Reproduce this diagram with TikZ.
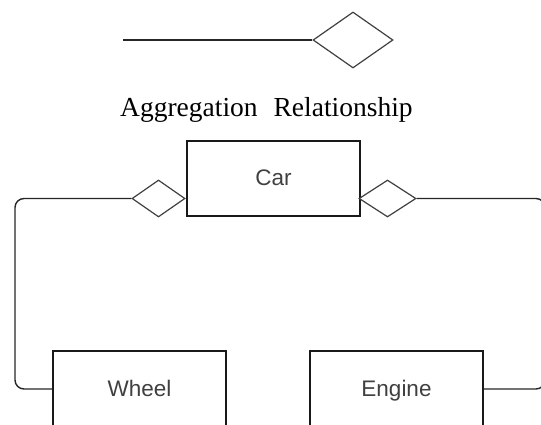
\documentclass[tikz,border=0pt]{standalone}
\usepackage{fontspec}
\setmainfont{Liberation Serif}
\setsansfont{Liberation Sans}
\usetikzlibrary{shapes.geometric}
\begin{document}
\begin{tikzpicture}[x=1pt,y=-1pt,
  line/.style={draw=black!85,line width=1.4pt},
  agg/.style={diamond,draw=black!75,line width=1.2pt,fill=white,inner sep=0pt},
  cls/.style={rectangle,draw=black!90,line width=1.4pt,minimum width=173pt,minimum height=75pt,inner sep=0pt,text height=19pt,text depth=4.5pt,font=\sffamily\fontsize{22.5}{24}\selectfont,text=black!75}]
\useasboundingbox (0,0) rectangle (541,425);
\clip (0,0) rectangle (541,425);
% legend
\coordinate (ls) at (123,40);
\node[agg,minimum width=80pt,minimum height=56pt] (ld) at (353,40) {};
\draw[line] (ls) -- (ld.west);
\node[font=\fontsize{27.5}{30}\selectfont,anchor=base west,inner sep=0pt] (title) at (120,117) {Aggregation\hspace{16pt}Relationship};
% classes
\node[cls] (car) at (273.5,178.5) {Car};
\node[cls,minimum height=76pt] (wheel) at (139.5,389) {Wheel};
\node[cls,minimum height=76pt] (engine) at (396.5,389) {Engine};
% diamonds
\node[agg,minimum width=53pt,minimum height=37pt] (dl) at (158.5,198.5) {};
\node[agg,minimum width=57pt,minimum height=37pt] (dr) at (387.5,198.5) {};
% connectors
\coordinate (l1) at (15,198.5);
\coordinate (l2) at (15,389);
\coordinate (r1) at (545,198.5);
\coordinate (r2) at (545,389);
\draw[line,rounded corners=9pt] (dl.west) -- (l1) -- (l2) -- (wheel.west);
\draw[line,rounded corners=9pt] (dr.east) -- (r1) -- (r2) -- (engine.east);
\end{tikzpicture}
\end{document}
